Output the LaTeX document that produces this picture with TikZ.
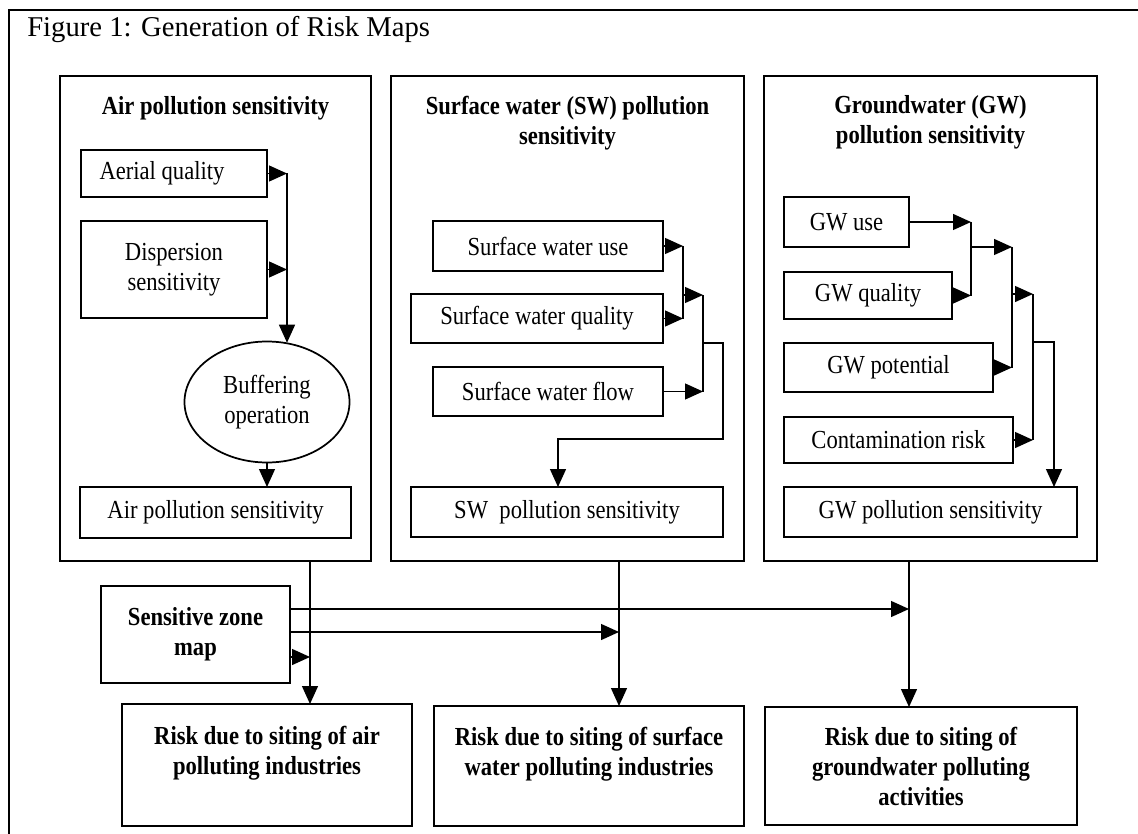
\documentclass[tikz,border=0pt]{standalone}
\usepackage{fontspec}
\setmainfont{Liberation Serif}[FakeStretch=0.87]
\newfontfamily\titlefont{Liberation Serif}
\usetikzlibrary{arrows.meta,shapes.geometric,calc}
\newcommand\pxbox[7][]{\node[box,#1,minimum width={(#5-#3)*0.75pt},minimum height={(#6-#4)*0.75pt}] (#2) at ({(#3+#5)/2},{(#4+#6)/2}) {#7};}
\begin{document}
\begin{tikzpicture}[x=0.75pt,y=-0.75pt,
  font=\fontsize{19.5}{22.5}\selectfont,
  box/.style={draw,line width=1.3pt,inner sep=0pt,outer sep=0pt,align=center},
  bf/.style={font=\fontsize{19.5}{22.5}\selectfont\bfseries},
  ttl/.style={font=\fontsize{19.5}{22.5}\selectfont\bfseries,inner sep=0pt,align=center,anchor=north},
  conn/.style={line width=1pt},
  arr/.style={conn,-{Triangle[length=13.5pt,width=12pt]}},
  frame/.style={line width=1.6pt}]
\useasboundingbox (0,0) rectangle (1138,834);
\draw[frame] (9,834) -- (9,10) -- (1138,10);
\node[anchor=base west,inner sep=0pt,font=\titlefont\fontsize{21.5}{25}\selectfont] (fig) at (27,37) {Figure 1: Generation of Risk Maps};
% panels
\pxbox{airp}{60}{76}{371}{561}{}
\pxbox{swp}{391}{76}{744}{561}{}
\pxbox{gwp}{764}{76}{1097}{561}{}
\node[ttl] (airt) at (215.5,96) {Air pollution sensitivity};
\node[ttl] (swt) at (567.5,96) {Surface water (SW) pollution\\sensitivity};
\node[ttl] (gwt) at (930.5,95) {Groundwater (GW)\\pollution sensitivity};
% air
\pxbox{aq}{81}{150}{267}{197}{Aerial quality\hspace{18pt}}
\pxbox{ds}{81}{221}{267}{318}{Dispersion\\sensitivity}
\node[draw,ellipse,line width=1.3pt,inner sep=0pt,minimum width=123.75pt,minimum height=90.75pt,align=center] (buf) at (267,402) {Buffering\\operation};
\pxbox{aps}{80}{487}{351}{538}{Air pollution sensitivity}
\coordinate (a1) at (287,173.5);
\draw[arr] (aq.east) -- (a1);
\draw[arr] (ds.east) -- (ds.east -| a1);
\draw[arr] (a1) -- (a1 |- buf.70);
\draw[arr] (buf.south) -- (buf.south |- aps.north);
% surface water
\pxbox{swu}{433}{221}{663}{271}{Surface water use}
\pxbox{swq}{411}{294}{663}{343}{Surface water quality}
\pxbox{swf}{433}{367}{663}{416}{Surface water flow}
\pxbox{sws}{411}{487}{723}{537}{SW\ \ pollution sensitivity}
\coordinate (s1) at (683,246);
\coordinate (s2) at (703,295);
\coordinate (s3) at (723,343);
\coordinate (s4) at (558,439);
\draw[arr] (swu.east) -- (s1);
\draw[arr] (swq.east) -- (swq.east -| s1);
\draw[conn] (s1) -- (swq.east -| s1);
\draw[arr] (s1 |- s2) -- (s2);
\draw[arr] (swf.east) -- (swf.east -| s2);
\draw[conn] (s2) -- (swf.east -| s2);
\draw[arr] (s2 |- s3) -- (s3) |- (s4) -- (s4 |- sws.north);
% groundwater
\pxbox{gu}{784}{197}{909}{247}{GW use}
\pxbox{gq}{784}{272}{952}{319}{GW quality}
\pxbox{gp}{784}{343}{993}{392}{GW potential}
\pxbox{gc}{784}{417}{1013}{463}{Contamination risk}
\pxbox{gws}{784}{487}{1077}{537}{GW pollution sensitivity}
\coordinate (g1) at (971,222);
\coordinate (g2) at (1012,247);
\coordinate (g3) at (1033,294);
\coordinate (g4) at (1054,342);
\draw[arr] (gu.east) -- (g1);
\draw[arr] (gq.east) -- (gq.east -| g1);
\draw[conn] (g1) -- (gq.east -| g1);
\draw[arr] (g1 |- g2) -- (g2);
\draw[arr] (gp.east) -- (gp.east -| g2);
\draw[conn] (g2) -- (gp.east -| g2);
\draw[arr] (g2 |- g3) -- (g3);
\draw[arr] (gc.east) -- (gc.east -| g3);
\draw[conn] (g3) -- (gc.east -| g3);
\draw[arr] (g3 |- g4) -- (g4) -- (g4 |- gws.north);
% bottom
\pxbox[bf]{szm}{101}{586}{290}{683}{Sensitive zone\\map}
\pxbox[bf]{rair}{122}{704}{412}{826}{Risk due to siting of air\\polluting industries\\\mbox{}}
\pxbox[bf]{rsw}{434}{706}{744}{826}{Risk due to siting of surface\\water polluting industries\\\mbox{}}
\pxbox[bf]{rgw}{765}{707}{1077}{825}{Risk due to siting of\\groundwater polluting\\activities}
\coordinate (ad) at (310,561);
\coordinate (sd) at (619,561);
\coordinate (gd) at (909,561);
\draw[arr] (ad) -- (ad |- rair.north);
\draw[arr] (sd) -- (sd |- rsw.north);
\draw[arr] (gd) -- (gd |- rgw.north);
\coordinate (z1) at ($(szm.east)+(0,-25.5)$);
\coordinate (z2) at ($(szm.east)+(0,-2.5)$);
\coordinate (z3) at ($(szm.east)+(0,22.5)$);
\draw[arr] (z1) -- (z1 -| gd);
\draw[arr] (z2) -- (z2 -| sd);
\draw[arr] (z3) -- (z3 -| ad);
\end{tikzpicture}
\end{document}
